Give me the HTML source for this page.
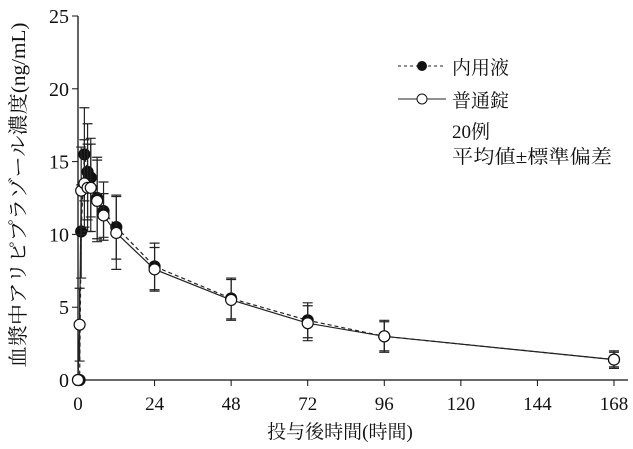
<!DOCTYPE html>
<html><head><meta charset="utf-8"><style>
body{margin:0;background:#fff;}
svg text{font-family:"Liberation Serif","Noto Serif CJK SC",serif;fill:#111;}
</style></head><body>
<svg id="c" width="633" height="444" xmlns="http://www.w3.org/2000/svg"></svg>
<script>
const times=[0,0.5,1,2,3,4,6,8,12,24,48,72,96,168];
const liquidMean=[0,0,10.2,15.5,14.3,13.9,12.5,11.6,10.5,7.8,5.6,4.1,3.0,1.4];
const liquidSD=[0,0,3.2,3.2,3.3,2.7,2.8,2.0,2.2,1.6,1.4,1.2,1.1,0.6];
const tabletMean=[0,3.8,13.0,13.5,13.2,13.2,12.3,11.3,10.1,7.6,5.5,3.9,3.0,1.4];
const tabletSD=[0,2.5,3.0,3.0,3.0,3.0,2.8,1.5,2.5,1.5,1.4,1.2,1.0,0.5];
const xTicks=[0,24,48,72,96,120,144,168];
const yTicks=[0,5,10,15,20,25];
const NS="http://www.w3.org/2000/svg";
const svg=document.getElementById('c');
const X0=78,X1=614,Y0=380,Y1=16;
const xs=t=>X0+t*(X1-X0)/168;
const ys=v=>Y0-v*(Y0-Y1)/25;
function mk(tag,attrs,parent){const e=document.createElementNS(NS,tag);for(const k in attrs)e.setAttribute(k,attrs[k]);(parent||svg).appendChild(e);return e;}
let ax=mk('path',{d:`M${X0},${Y1} V${Y0} H${X1+14}`,stroke:'#111','stroke-width':1.3,fill:'none'});


xTicks.forEach(t=>{
 let l=mk('line',{x1:xs(t),x2:xs(t),y1:Y0,y2:Y0+6,stroke:'#111'});
 
 
 let tx=mk('text',{x:xs(t),y:Y0+30,'text-anchor':'middle','font-size':19});
 tx.textContent=t;
 
 
});
yTicks.forEach(v=>{
 let l=mk('line',{x1:X0-6,x2:X0,y1:ys(v),y2:ys(v),stroke:'#111'});
 
 
 let tx=mk('text',{x:X0-9,y:ys(v)+7,'text-anchor':'end','font-size':20});
 tx.textContent=v;
 
 
});
let xt=mk('text',{x:340,y:438,'text-anchor':'middle','font-size':19});
xt.textContent='投与後時間(時間)';


let yt=mk('text',{x:0,y:0,'text-anchor':'middle','font-size':20,textLength:345,lengthAdjust:'spacingAndGlyphs',transform:'translate(25,195) rotate(-90)'});
yt.textContent='血漿中アリピプラゾール濃度(ng/mL)';


function series(mean,sd,dash,fill,name){
 const g=mk('g',{});
 
 
 times.forEach((t,i)=>{if(sd[i]>0){const x=xs(t);
  mk('path',{d:`M${x},${ys(mean[i]-sd[i])}V${ys(mean[i]+sd[i])}M${x-5},${ys(mean[i]-sd[i])}h10M${x-5},${ys(mean[i]+sd[i])}h10`,stroke:'#222','stroke-width':1.2,fill:'none'},g);}});
 const p=mk('polyline',{points:times.map((t,i)=>xs(t)+','+ys(mean[i])).join(' '),fill:'none',stroke:'#222','stroke-width':1.2,'stroke-dasharray':dash},g);
 
 
 times.forEach((t,i)=>{const c=mk('circle',{cx:xs(t),cy:ys(mean[i]),r:5.5,fill:fill,stroke:'#111','stroke-width':1.2},g);
  
  });
}
series(liquidMean,liquidSD,'4,3','#111','liquid');
series(tabletMean,tabletSD,'none','#fff','tablet');
const lg=mk('g',{});


mk('line',{x1:398,x2:446,y1:66,y2:66,stroke:'#222','stroke-dasharray':'3,3'},lg);
mk('circle',{cx:422,cy:66,r:5,fill:'#111'},lg);
mk('line',{x1:398,x2:446,y1:99,y2:99,stroke:'#222'},lg);
mk('circle',{cx:422,cy:99,r:5,fill:'#fff',stroke:'#111'},lg);
[['内用液',452,74,null],['普通錠',452,107,null],['20例',452,138,null],['平均値±標準偏差',452,163,160]].forEach(a=>{
 const at={x:a[1],y:a[2],'font-size':19};
 if(a[3]){at.textLength=a[3];at.lengthAdjust='spacingAndGlyphs';}
 const t=mk('text',at,lg);t.textContent=a[0];
 
 
});
</script>
</body></html>
